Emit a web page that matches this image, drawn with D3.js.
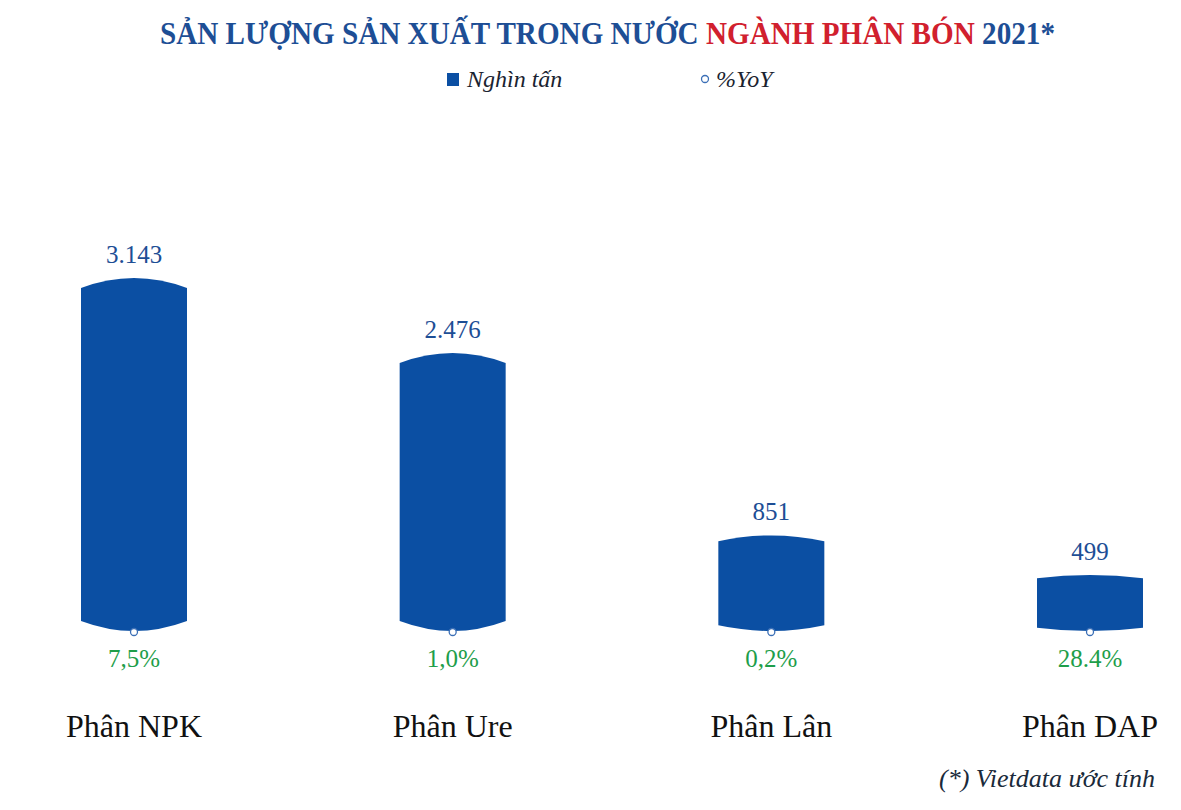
<!DOCTYPE html>
<html><head><meta charset="utf-8">
<script src="https://cdn.jsdelivr.net/npm/d3@7/dist/d3.min.js"></script>
<style>body{margin:0;background:#fff}svg{display:block}</style>
</head><body>
<svg id="c" width="1181" height="810"></svg>
<script>
const categories = ["Phân NPK", "Phân Ure", "Phân Lân", "Phân DAP"];
const outputValues = [3143, 2476, 851, 499];
const valueLabels = ["3.143", "2.476", "851", "499"];
const yoyValues = [7.5, 1.0, 0.2, 28.4];
const yoyLabels = ["7,5%", "1,0%", "0,2%", "28.4%"];
const legendLabels = ["Nghìn tấn", "%YoY"];

const svg = d3.select("#c");
const blue = "#0b4fa3", labelBlue = "#1d4e95", green = "#1e9e4a";

const x = d3.scalePoint().domain(categories).range([134, 1090]);
const y = d3.scaleLinear().domain([0, 3500]).range([631, 238]);
const bw = 106;

// title (single text, scaled to the reference width)
const tg = svg.append("g");
const title = tg.append("text").attr("x", 0).attr("y", 0).attr("text-anchor", "start")
  .attr("font-family", "Liberation Serif").attr("font-weight", "bold").attr("font-size", 32);
title.append("tspan").attr("fill", "#1d4e95").text("SẢN LƯỢNG SẢN XUẤT TRONG NƯỚC ");
title.append("tspan").attr("fill", "#d1202e").text("NGÀNH PHÂN BÓN");
title.append("tspan").attr("fill", "#1d4e95").text(" 2021*");
const tw = title.node().getComputedTextLength();
tg.attr("transform", `translate(160,44) scale(${895 / tw},1)`);

// legend
svg.append("rect").attr("x", 447).attr("y", 73).attr("width", 12).attr("height", 13).attr("fill", blue);
svg.append("text").attr("x", 467).attr("y", 87).attr("font-family", "Liberation Serif").attr("font-style", "italic")
  .attr("font-size", 24).attr("fill", "#1a2330").text(legendLabels[0]);
svg.append("circle").attr("cx", 705).attr("cy", 79).attr("r", 3.5).attr("fill", "#fff").attr("stroke", "#3b6fb6").attr("stroke-width", 1.3);
svg.append("text").attr("x", 716).attr("y", 87).attr("font-family", "Liberation Serif").attr("font-style", "italic")
  .attr("font-size", 24).attr("fill", "#1a2330").text(legendLabels[1]);

function cyl(cx, yT, yB) {
  const h = yB - yT;
  const c = Math.min(10, h * 0.06);
  const x0 = cx - bw / 2, x1 = cx + bw / 2;
  return `M${x0},${yT + c} Q${cx},${yT - c} ${x1},${yT + c} L${x1},${yB - c} Q${cx},${yB + c} ${x0},${yB - c} Z`;
}

const g = svg.append("g");
categories.forEach((cat, i) => {
  const cx = x(cat);
  g.append("path").attr("d", cyl(cx, y(outputValues[i]), y(0))).attr("fill", blue);
  g.append("text").attr("x", cx).attr("y", y(outputValues[i]) - 15).attr("text-anchor", "middle")
    .attr("font-family", "Liberation Serif").attr("font-size", 25).attr("fill", labelBlue).text(valueLabels[i]);
  g.append("circle").attr("cx", cx).attr("cy", y(0) + 1).attr("r", 3.5).attr("fill", "#fff")
    .attr("stroke", "#3b6fb6").attr("stroke-width", 1.3);
  g.append("text").attr("x", cx).attr("y", 667).attr("text-anchor", "middle")
    .attr("font-family", "Liberation Serif").attr("font-size", 25).attr("fill", green).text(yoyLabels[i]);
  g.append("text").attr("x", cx).attr("y", 737).attr("text-anchor", "middle")
    .attr("font-family", "Liberation Serif").attr("font-size", 32).attr("fill", "#111").text(cat);
});

svg.append("text").attr("x", 1155).attr("y", 787).attr("text-anchor", "end")
  .attr("font-family", "Liberation Serif").attr("font-style", "italic").attr("font-size", 26)
  .attr("fill", "#1a2a3a").text("(*) Vietdata ước tính");
</script>
</body></html>
